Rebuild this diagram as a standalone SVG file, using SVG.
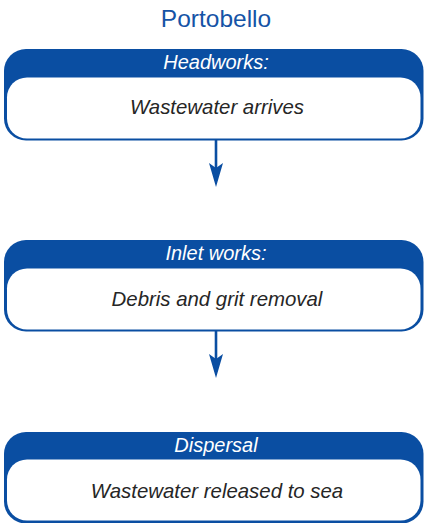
<svg xmlns="http://www.w3.org/2000/svg" width="424" height="523" viewBox="0 0 424 523">
  <defs>
    <style>
      .title { font-family: "Liberation Sans", Arial, sans-serif; font-size: 24.5px; fill: #1553a6; text-anchor: middle; }
      .head-bg { fill: #0a4ea2; }
      .body-bg { fill: #ffffff; }
      .head { font-family: "Liberation Sans", Arial, sans-serif; font-style: italic; font-size: 20px; fill: #ffffff; text-anchor: middle; }
      .body { font-family: "Liberation Sans", Arial, sans-serif; font-style: italic; font-size: 20.4px; fill: #262626; text-anchor: middle; }
      .conn { stroke: #0a4ea2; stroke-width: 2.6; fill: none; }
    </style>
    <marker id="arrow" markerUnits="userSpaceOnUse" viewBox="-25 -8 26 16" markerWidth="26" markerHeight="16" refX="-17" refY="0" orient="auto">
      <path d="M0,0 L-24,-7 L-19,0 L-24,7 Z" fill="#0a4ea2"/>
    </marker>
  </defs>
  <rect width="424" height="523" fill="#ffffff"/>

  <text class="title" x="216" y="27">Portobello</text>

  <g id="connectors">
    <line class="conn" x1="216" y1="140" x2="216" y2="170" marker-end="url(#arrow)"/>
    <line class="conn" x1="216" y1="331" x2="216" y2="361" marker-end="url(#arrow)"/>
  </g>

  <g id="headworks">
    <rect class="head-bg" x="4" y="49" width="419.5" height="91.5" rx="22" ry="22"/>
    <rect class="body-bg" x="7" y="77.5" width="413.5" height="61" rx="20" ry="20"/>
    <text class="head" x="216" y="69">Headworks:</text>
    <text class="body" x="217" y="114">Wastewater arrives</text>
  </g>

  <g id="inlet-works">
    <rect class="head-bg" x="4" y="240" width="419.5" height="91.5" rx="22" ry="22"/>
    <rect class="body-bg" x="7" y="268.5" width="413.5" height="61" rx="20" ry="20"/>
    <text class="head" x="216" y="260">Inlet works:</text>
    <text class="body" x="217" y="306">Debris and grit removal</text>
  </g>

  <g id="dispersal">
    <rect class="head-bg" x="4" y="432" width="419.5" height="91.5" rx="22" ry="22"/>
    <rect class="body-bg" x="7" y="459.5" width="413.5" height="61" rx="20" ry="20"/>
    <text class="head" x="216" y="452">Dispersal</text>
    <text class="body" x="217" y="498">Wastewater released to sea</text>
  </g>
</svg>
